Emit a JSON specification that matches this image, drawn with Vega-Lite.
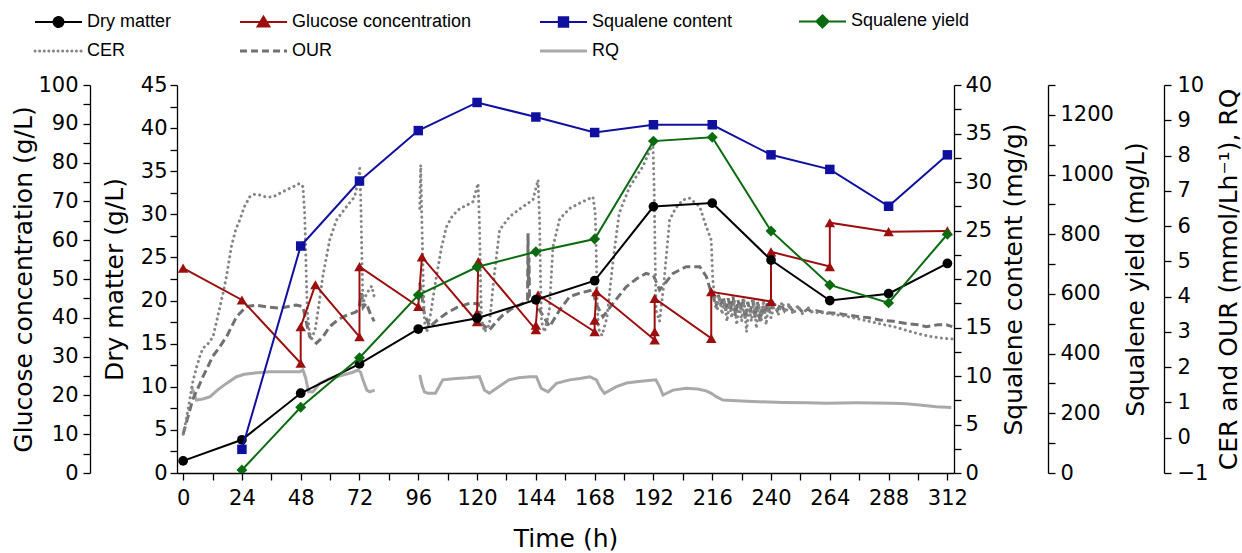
{
  "$schema": "https://vega.github.io/schema/vega-lite/v6.json",
  "width": 777,
  "height": 388,
  "autosize": {"type": "none"},
  "padding": {"left": 177, "top": 85, "right": 288, "bottom": 80},
  "background": "white",
  "config": {
    "view": {"stroke": null},
    "axis": {
      "labelFont": "DejaVu Sans", "labelFontSize": 21, "labelColor": "black",
      "titleFont": "DejaVu Sans", "titleFontSize": 25, "titleFontWeight": "normal", "titleColor": "black",
      "domainColor": "black", "tickColor": "black", "domainWidth": 1.3, "tickWidth": 1.3,
      "grid": false, "labelOverlap": false, "labelFlush": false, "tickSize": 7
    },
    "legend": {
      "orient": "none", "legendX": -142, "legendY": -73, "direction": "horizontal", "columns": 4, "columnPadding": 62, "rowPadding": 10,
      "symbolSize": 2209, "symbolOffset": 14.5, "labelFont": "Liberation Sans", "labelFontSize": 18, "labelColor": "black", "labelOffset": 19.5, "labelLimit": 500,
      "symbolOpacity": 1
    }
  },
  "datasets": {
    "measured": [
      {"series": "Dry matter", "i": 1, "t": 0, "v": 1.4},
      {"series": "Dry matter", "i": 2, "t": 24, "v": 3.85},
      {"series": "Dry matter", "i": 3, "t": 48, "v": 9.25},
      {"series": "Dry matter", "i": 4, "t": 72, "v": 12.65},
      {"series": "Dry matter", "i": 5, "t": 96, "v": 16.7},
      {"series": "Dry matter", "i": 6, "t": 120, "v": 17.95},
      {"series": "Dry matter", "i": 7, "t": 144, "v": 20.1},
      {"series": "Dry matter", "i": 8, "t": 168, "v": 22.3},
      {"series": "Dry matter", "i": 9, "t": 192, "v": 30.9},
      {"series": "Dry matter", "i": 10, "t": 216, "v": 31.3},
      {"series": "Dry matter", "i": 11, "t": 240, "v": 24.7},
      {"series": "Dry matter", "i": 12, "t": 264, "v": 20.0},
      {"series": "Dry matter", "i": 13, "t": 288, "v": 20.8},
      {"series": "Dry matter", "i": 14, "t": 312, "v": 24.3},
      {"series": "Glucose concentration", "i": 1, "t": 0, "v": 52.8},
      {"series": "Glucose concentration", "i": 2, "t": 24, "v": 44.6},
      {"series": "Glucose concentration", "i": 3, "t": 48, "v": 28.3},
      {"series": "Glucose concentration", "i": 4, "t": 48, "v": 37.7},
      {"series": "Glucose concentration", "i": 5, "t": 54, "v": 48.5},
      {"series": "Glucose concentration", "i": 6, "t": 72, "v": 35.1},
      {"series": "Glucose concentration", "i": 7, "t": 72, "v": 53.2},
      {"series": "Glucose concentration", "i": 8, "t": 96, "v": 42.9},
      {"series": "Glucose concentration", "i": 9, "t": 97.5, "v": 55.7},
      {"series": "Glucose concentration", "i": 10, "t": 120, "v": 39.0},
      {"series": "Glucose concentration", "i": 11, "t": 120, "v": 41.2},
      {"series": "Glucose concentration", "i": 12, "t": 120.5, "v": 54.5},
      {"series": "Glucose concentration", "i": 13, "t": 144, "v": 36.9},
      {"series": "Glucose concentration", "i": 14, "t": 144, "v": 38.1},
      {"series": "Glucose concentration", "i": 15, "t": 144.9, "v": 45.9},
      {"series": "Glucose concentration", "i": 16, "t": 168, "v": 36.4},
      {"series": "Glucose concentration", "i": 17, "t": 168, "v": 39.4},
      {"series": "Glucose concentration", "i": 18, "t": 168.7, "v": 46.7},
      {"series": "Glucose concentration", "i": 19, "t": 192.5, "v": 34.3},
      {"series": "Glucose concentration", "i": 20, "t": 192.5, "v": 36.4},
      {"series": "Glucose concentration", "i": 21, "t": 192.5, "v": 45.0},
      {"series": "Glucose concentration", "i": 22, "t": 215.6, "v": 34.7},
      {"series": "Glucose concentration", "i": 23, "t": 215.6, "v": 46.7},
      {"series": "Glucose concentration", "i": 24, "t": 240, "v": 44.2},
      {"series": "Glucose concentration", "i": 25, "t": 240, "v": 57.0},
      {"series": "Glucose concentration", "i": 26, "t": 264, "v": 53.2},
      {"series": "Glucose concentration", "i": 27, "t": 264, "v": 64.5},
      {"series": "Glucose concentration", "i": 28, "t": 288, "v": 62.2},
      {"series": "Glucose concentration", "i": 29, "t": 312, "v": 62.4},
      {"series": "Squalene content", "i": 1, "t": 24, "v": 2.44},
      {"series": "Squalene content", "i": 2, "t": 48, "v": 23.4},
      {"series": "Squalene content", "i": 3, "t": 72, "v": 30.1},
      {"series": "Squalene content", "i": 4, "t": 96, "v": 35.3},
      {"series": "Squalene content", "i": 5, "t": 120, "v": 38.2},
      {"series": "Squalene content", "i": 6, "t": 144, "v": 36.7},
      {"series": "Squalene content", "i": 7, "t": 168, "v": 35.1},
      {"series": "Squalene content", "i": 8, "t": 192, "v": 35.9},
      {"series": "Squalene content", "i": 9, "t": 216, "v": 35.9},
      {"series": "Squalene content", "i": 10, "t": 240, "v": 32.8},
      {"series": "Squalene content", "i": 11, "t": 264, "v": 31.3},
      {"series": "Squalene content", "i": 12, "t": 288, "v": 27.5},
      {"series": "Squalene content", "i": 13, "t": 312, "v": 32.8},
      {"series": "Squalene yield", "i": 1, "t": 24, "v": 10},
      {"series": "Squalene yield", "i": 2, "t": 48, "v": 220},
      {"series": "Squalene yield", "i": 3, "t": 72, "v": 386},
      {"series": "Squalene yield", "i": 4, "t": 96, "v": 596},
      {"series": "Squalene yield", "i": 5, "t": 120, "v": 690},
      {"series": "Squalene yield", "i": 6, "t": 144, "v": 741},
      {"series": "Squalene yield", "i": 7, "t": 168, "v": 784},
      {"series": "Squalene yield", "i": 8, "t": 192, "v": 1112},
      {"series": "Squalene yield", "i": 9, "t": 216, "v": 1125},
      {"series": "Squalene yield", "i": 10, "t": 240, "v": 811},
      {"series": "Squalene yield", "i": 11, "t": 264, "v": 630},
      {"series": "Squalene yield", "i": 12, "t": 288, "v": 570},
      {"series": "Squalene yield", "i": 13, "t": 312, "v": 800}
    ],
    "online": [
      {"series": "CER", "seg": 1, "t": 0, "v": 0.1}, {"series": "CER", "seg": 1, "t": 1.5, "v": 0.6}, {"series": "CER", "seg": 1, "t": 2.7, "v": 1.07}, {"series": "CER", "seg": 1, "t": 4, "v": 1.6}, {"series": "CER", "seg": 1, "t": 5.5, "v": 2.0}, {"series": "CER", "seg": 1, "t": 6.8, "v": 2.3}, {"series": "CER", "seg": 1, "t": 8.1, "v": 2.54}, {"series": "CER", "seg": 1, "t": 10, "v": 2.65}, {"series": "CER", "seg": 1, "t": 12.2, "v": 2.86}, {"series": "CER", "seg": 1, "t": 14, "v": 3.4}, {"series": "CER", "seg": 1, "t": 16.3, "v": 4.1}, {"series": "CER", "seg": 1, "t": 17.7, "v": 4.57}, {"series": "CER", "seg": 1, "t": 19.7, "v": 5.42}, {"series": "CER", "seg": 1, "t": 21.5, "v": 5.9}, {"series": "CER", "seg": 1, "t": 23.1, "v": 6.17}, {"series": "CER", "seg": 1, "t": 25, "v": 6.55}, {"series": "CER", "seg": 1, "t": 27.2, "v": 6.83}, {"series": "CER", "seg": 1, "t": 29, "v": 6.9}, {"series": "CER", "seg": 1, "t": 31.3, "v": 6.88}, {"series": "CER", "seg": 1, "t": 34, "v": 6.82}, {"series": "CER", "seg": 1, "t": 36.7, "v": 6.83}, {"series": "CER", "seg": 1, "t": 40, "v": 6.95}, {"series": "CER", "seg": 1, "t": 43.5, "v": 7.07}, {"series": "CER", "seg": 1, "t": 46, "v": 7.15}, {"series": "CER", "seg": 1, "t": 47.6, "v": 7.21}, {"series": "CER", "seg": 1, "t": 48.9, "v": 7.12}, {"series": "CER", "seg": 1, "t": 49.6, "v": 6.36}, {"series": "CER", "seg": 1, "t": 50, "v": 5.42}, {"series": "CER", "seg": 1, "t": 50.3, "v": 4.47}, {"series": "CER", "seg": 1, "t": 50.7, "v": 3.6}, {"series": "CER", "seg": 1, "t": 51.5, "v": 3.0}, {"series": "CER", "seg": 1, "t": 52.5, "v": 2.8}, {"series": "CER", "seg": 1, "t": 54, "v": 3.1}, {"series": "CER", "seg": 1, "t": 55.5, "v": 3.8}, {"series": "CER", "seg": 1, "t": 57, "v": 4.57}, {"series": "CER", "seg": 1, "t": 59.8, "v": 5.6}, {"series": "CER", "seg": 1, "t": 62.6, "v": 6.17}, {"series": "CER", "seg": 1, "t": 66.7, "v": 6.55}, {"series": "CER", "seg": 1, "t": 70, "v": 6.83}, {"series": "CER", "seg": 1, "t": 71.5, "v": 7.3}, {"series": "CER", "seg": 1, "t": 72.1, "v": 7.64}, {"series": "CER", "seg": 1, "t": 72.6, "v": 6.5}, {"series": "CER", "seg": 1, "t": 73, "v": 5.0}, {"series": "CER", "seg": 1, "t": 73.4, "v": 3.81}, {"series": "CER", "seg": 1, "t": 75, "v": 4.1}, {"series": "CER", "seg": 1, "t": 77, "v": 4.3}, {"series": "CER", "seg": 1, "t": 78, "v": 4.0},
      {"series": "CER", "seg": 2, "t": 96.6, "v": 6.5}, {"series": "CER", "seg": 2, "t": 97.0, "v": 7.73}, {"series": "CER", "seg": 2, "t": 97.5, "v": 6.0}, {"series": "CER", "seg": 2, "t": 98, "v": 4.5}, {"series": "CER", "seg": 2, "t": 98.5, "v": 3.3}, {"series": "CER", "seg": 2, "t": 99.5, "v": 3.0}, {"series": "CER", "seg": 2, "t": 101, "v": 3.5}, {"series": "CER", "seg": 2, "t": 103.4, "v": 4.57}, {"series": "CER", "seg": 2, "t": 105.5, "v": 5.4}, {"series": "CER", "seg": 2, "t": 107.5, "v": 5.98}, {"series": "CER", "seg": 2, "t": 110, "v": 6.3}, {"series": "CER", "seg": 2, "t": 113, "v": 6.5}, {"series": "CER", "seg": 2, "t": 116, "v": 6.6}, {"series": "CER", "seg": 2, "t": 118.3, "v": 6.69}, {"series": "CER", "seg": 2, "t": 120.4, "v": 7.21}, {"series": "CER", "seg": 2, "t": 121, "v": 6.0}, {"series": "CER", "seg": 2, "t": 121.4, "v": 4.5}, {"series": "CER", "seg": 2, "t": 121.8, "v": 3.4}, {"series": "CER", "seg": 2, "t": 123, "v": 3.0}, {"series": "CER", "seg": 2, "t": 125, "v": 3.2}, {"series": "CER", "seg": 2, "t": 127, "v": 4.6}, {"series": "CER", "seg": 2, "t": 129.2, "v": 5.89}, {"series": "CER", "seg": 2, "t": 133.3, "v": 6.27}, {"series": "CER", "seg": 2, "t": 138.7, "v": 6.55}, {"series": "CER", "seg": 2, "t": 142.8, "v": 6.74}, {"series": "CER", "seg": 2, "t": 144.9, "v": 7.31}, {"series": "CER", "seg": 2, "t": 145.5, "v": 6.2}, {"series": "CER", "seg": 2, "t": 145.9, "v": 4.5}, {"series": "CER", "seg": 2, "t": 146.3, "v": 3.3}, {"series": "CER", "seg": 2, "t": 147.5, "v": 3.0}, {"series": "CER", "seg": 2, "t": 149.5, "v": 3.6}, {"series": "CER", "seg": 2, "t": 151, "v": 5.42}, {"series": "CER", "seg": 2, "t": 153.7, "v": 6.2}, {"series": "CER", "seg": 2, "t": 157.8, "v": 6.5}, {"series": "CER", "seg": 2, "t": 161.9, "v": 6.65}, {"series": "CER", "seg": 2, "t": 165, "v": 6.75}, {"series": "CER", "seg": 2, "t": 167.3, "v": 6.83}, {"series": "CER", "seg": 2, "t": 168.2, "v": 6.4}, {"series": "CER", "seg": 2, "t": 168.6, "v": 5.42}, {"series": "CER", "seg": 2, "t": 169, "v": 4.0}, {"series": "CER", "seg": 2, "t": 169.5, "v": 3.1}, {"series": "CER", "seg": 2, "t": 171, "v": 2.9}, {"series": "CER", "seg": 2, "t": 173, "v": 3.4}, {"series": "CER", "seg": 2, "t": 175.5, "v": 5.0}, {"series": "CER", "seg": 2, "t": 178, "v": 6.36}, {"series": "CER", "seg": 2, "t": 182.3, "v": 7.12}, {"series": "CER", "seg": 2, "t": 187.7, "v": 7.69}, {"series": "CER", "seg": 2, "t": 191.8, "v": 8.35}, {"series": "CER", "seg": 2, "t": 192.3, "v": 7.0}, {"series": "CER", "seg": 2, "t": 192.7, "v": 5.0}, {"series": "CER", "seg": 2, "t": 193.1, "v": 3.6}, {"series": "CER", "seg": 2, "t": 194.5, "v": 3.3}, {"series": "CER", "seg": 2, "t": 196, "v": 4.2}, {"series": "CER", "seg": 2, "t": 198.6, "v": 6.17}, {"series": "CER", "seg": 2, "t": 201, "v": 6.5}, {"series": "CER", "seg": 2, "t": 204, "v": 6.74}, {"series": "CER", "seg": 2, "t": 206.8, "v": 6.79}, {"series": "CER", "seg": 2, "t": 210.9, "v": 6.55}, {"series": "CER", "seg": 2, "t": 213, "v": 6.1}, {"series": "CER", "seg": 2, "t": 215.6, "v": 5.6}, {"series": "CER", "seg": 2, "t": 216.2, "v": 4.5}, {"series": "CER", "seg": 2, "t": 216.8, "v": 4.1}, {"series": "CER", "seg": 2, "t": 218, "v": 3.6}, {"series": "CER", "seg": 2, "t": 219, "v": 4.0}, {"series": "CER", "seg": 2, "t": 220, "v": 3.5}, {"series": "CER", "seg": 2, "t": 221, "v": 3.9}, {"series": "CER", "seg": 2, "t": 222, "v": 3.3}, {"series": "CER", "seg": 2, "t": 223, "v": 3.8}, {"series": "CER", "seg": 2, "t": 224, "v": 3.4}, {"series": "CER", "seg": 2, "t": 225, "v": 3.9}, {"series": "CER", "seg": 2, "t": 226, "v": 3.2}, {"series": "CER", "seg": 2, "t": 227, "v": 3.8}, {"series": "CER", "seg": 2, "t": 228, "v": 3.3}, {"series": "CER", "seg": 2, "t": 229, "v": 3.9}, {"series": "CER", "seg": 2, "t": 230, "v": 3.0}, {"series": "CER", "seg": 2, "t": 231, "v": 3.7}, {"series": "CER", "seg": 2, "t": 232, "v": 3.3}, {"series": "CER", "seg": 2, "t": 233, "v": 3.9}, {"series": "CER", "seg": 2, "t": 234, "v": 3.1}, {"series": "CER", "seg": 2, "t": 235, "v": 3.8}, {"series": "CER", "seg": 2, "t": 236, "v": 3.3}, {"series": "CER", "seg": 2, "t": 237, "v": 3.9}, {"series": "CER", "seg": 2, "t": 238, "v": 3.2}, {"series": "CER", "seg": 2, "t": 239, "v": 3.8}, {"series": "CER", "seg": 2, "t": 240, "v": 3.4}, {"series": "CER", "seg": 2, "t": 241.5, "v": 3.8}, {"series": "CER", "seg": 2, "t": 243, "v": 3.5}, {"series": "CER", "seg": 2, "t": 244.5, "v": 3.85}, {"series": "CER", "seg": 2, "t": 246, "v": 3.55}, {"series": "CER", "seg": 2, "t": 247.5, "v": 3.8}, {"series": "CER", "seg": 2, "t": 249, "v": 3.5}, {"series": "CER", "seg": 2, "t": 251, "v": 3.75}, {"series": "CER", "seg": 2, "t": 253, "v": 3.5}, {"series": "CER", "seg": 2, "t": 255, "v": 3.7}, {"series": "CER", "seg": 2, "t": 257, "v": 3.55}, {"series": "CER", "seg": 2, "t": 260, "v": 3.55}, {"series": "CER", "seg": 2, "t": 265, "v": 3.5}, {"series": "CER", "seg": 2, "t": 270, "v": 3.45}, {"series": "CER", "seg": 2, "t": 275, "v": 3.38}, {"series": "CER", "seg": 2, "t": 280, "v": 3.3}, {"series": "CER", "seg": 2, "t": 285, "v": 3.22}, {"series": "CER", "seg": 2, "t": 290, "v": 3.15}, {"series": "CER", "seg": 2, "t": 295, "v": 3.05}, {"series": "CER", "seg": 2, "t": 300, "v": 2.95}, {"series": "CER", "seg": 2, "t": 305, "v": 2.87}, {"series": "CER", "seg": 2, "t": 310, "v": 2.82}, {"series": "CER", "seg": 2, "t": 314, "v": 2.8},
      {"series": "OUR", "seg": 1, "t": 0, "v": 0.1}, {"series": "OUR", "seg": 1, "t": 2, "v": 0.6}, {"series": "OUR", "seg": 1, "t": 4, "v": 1.1}, {"series": "OUR", "seg": 1, "t": 6, "v": 1.4}, {"series": "OUR", "seg": 1, "t": 8.1, "v": 1.73}, {"series": "OUR", "seg": 1, "t": 10, "v": 2.0}, {"series": "OUR", "seg": 1, "t": 12, "v": 2.3}, {"series": "OUR", "seg": 1, "t": 15, "v": 2.58}, {"series": "OUR", "seg": 1, "t": 18, "v": 2.9}, {"series": "OUR", "seg": 1, "t": 21.8, "v": 3.43}, {"series": "OUR", "seg": 1, "t": 25.8, "v": 3.72}, {"series": "OUR", "seg": 1, "t": 29.9, "v": 3.76}, {"series": "OUR", "seg": 1, "t": 35, "v": 3.7}, {"series": "OUR", "seg": 1, "t": 39.4, "v": 3.67}, {"series": "OUR", "seg": 1, "t": 43, "v": 3.72}, {"series": "OUR", "seg": 1, "t": 46.2, "v": 3.76}, {"series": "OUR", "seg": 1, "t": 48.9, "v": 3.72}, {"series": "OUR", "seg": 1, "t": 50.2, "v": 3.3}, {"series": "OUR", "seg": 1, "t": 51.7, "v": 2.86}, {"series": "OUR", "seg": 1, "t": 54.4, "v": 2.68}, {"series": "OUR", "seg": 1, "t": 57, "v": 2.85}, {"series": "OUR", "seg": 1, "t": 59.8, "v": 3.15}, {"series": "OUR", "seg": 1, "t": 62.5, "v": 3.3}, {"series": "OUR", "seg": 1, "t": 65.3, "v": 3.43}, {"series": "OUR", "seg": 1, "t": 68, "v": 3.5}, {"series": "OUR", "seg": 1, "t": 70.7, "v": 3.57}, {"series": "OUR", "seg": 1, "t": 72, "v": 3.75}, {"series": "OUR", "seg": 1, "t": 72.8, "v": 4.1}, {"series": "OUR", "seg": 1, "t": 73.5, "v": 3.7}, {"series": "OUR", "seg": 1, "t": 74.8, "v": 3.81}, {"series": "OUR", "seg": 1, "t": 76.5, "v": 3.5}, {"series": "OUR", "seg": 1, "t": 78, "v": 3.3},
      {"series": "OUR", "seg": 2, "t": 96.6, "v": 4.4}, {"series": "OUR", "seg": 2, "t": 97.3, "v": 4.1}, {"series": "OUR", "seg": 2, "t": 98.5, "v": 3.5}, {"series": "OUR", "seg": 2, "t": 100.7, "v": 3.15}, {"series": "OUR", "seg": 2, "t": 104, "v": 3.35}, {"series": "OUR", "seg": 2, "t": 107.5, "v": 3.53}, {"series": "OUR", "seg": 2, "t": 112, "v": 3.7}, {"series": "OUR", "seg": 2, "t": 117, "v": 3.81}, {"series": "OUR", "seg": 2, "t": 120.5, "v": 3.8}, {"series": "OUR", "seg": 2, "t": 121.8, "v": 3.24}, {"series": "OUR", "seg": 2, "t": 125, "v": 3.05}, {"series": "OUR", "seg": 2, "t": 128, "v": 3.3}, {"series": "OUR", "seg": 2, "t": 130.6, "v": 3.48}, {"series": "OUR", "seg": 2, "t": 134, "v": 3.65}, {"series": "OUR", "seg": 2, "t": 138.7, "v": 3.81}, {"series": "OUR", "seg": 2, "t": 140.6, "v": 3.9}, {"series": "OUR", "seg": 2, "t": 140.8, "v": 5.8}, {"series": "OUR", "seg": 2, "t": 141.0, "v": 4.3}, {"series": "OUR", "seg": 2, "t": 141.2, "v": 5.1}, {"series": "OUR", "seg": 2, "t": 141.4, "v": 4.0}, {"series": "OUR", "seg": 2, "t": 142.8, "v": 4.0}, {"series": "OUR", "seg": 2, "t": 145.5, "v": 3.62}, {"series": "OUR", "seg": 2, "t": 149.6, "v": 3.15}, {"series": "OUR", "seg": 2, "t": 153.7, "v": 3.62}, {"series": "OUR", "seg": 2, "t": 157.8, "v": 4.0}, {"series": "OUR", "seg": 2, "t": 161.9, "v": 4.1}, {"series": "OUR", "seg": 2, "t": 167.3, "v": 4.19}, {"series": "OUR", "seg": 2, "t": 168.5, "v": 3.8}, {"series": "OUR", "seg": 2, "t": 171.4, "v": 3.43}, {"series": "OUR", "seg": 2, "t": 175.5, "v": 3.81}, {"series": "OUR", "seg": 2, "t": 180.9, "v": 4.28}, {"series": "OUR", "seg": 2, "t": 185, "v": 4.5}, {"series": "OUR", "seg": 2, "t": 189, "v": 4.66}, {"series": "OUR", "seg": 2, "t": 192, "v": 4.6}, {"series": "OUR", "seg": 2, "t": 194.5, "v": 4.19}, {"series": "OUR", "seg": 2, "t": 197, "v": 4.4}, {"series": "OUR", "seg": 2, "t": 200, "v": 4.66}, {"series": "OUR", "seg": 2, "t": 205.4, "v": 4.85}, {"series": "OUR", "seg": 2, "t": 210.9, "v": 4.85}, {"series": "OUR", "seg": 2, "t": 213.6, "v": 4.57}, {"series": "OUR", "seg": 2, "t": 215.6, "v": 4.1}, {"series": "OUR", "seg": 2, "t": 216.5, "v": 4.0}, {"series": "OUR", "seg": 2, "t": 217.5, "v": 3.7}, {"series": "OUR", "seg": 2, "t": 218.5, "v": 4.05}, {"series": "OUR", "seg": 2, "t": 219.5, "v": 3.75}, {"series": "OUR", "seg": 2, "t": 220.5, "v": 4.0}, {"series": "OUR", "seg": 2, "t": 221.5, "v": 3.6}, {"series": "OUR", "seg": 2, "t": 222.5, "v": 3.95}, {"series": "OUR", "seg": 2, "t": 223.5, "v": 3.65}, {"series": "OUR", "seg": 2, "t": 224.5, "v": 4.0}, {"series": "OUR", "seg": 2, "t": 225.5, "v": 3.45}, {"series": "OUR", "seg": 2, "t": 226.5, "v": 3.9}, {"series": "OUR", "seg": 2, "t": 227.5, "v": 3.6}, {"series": "OUR", "seg": 2, "t": 228.5, "v": 3.95}, {"series": "OUR", "seg": 2, "t": 229.5, "v": 3.35}, {"series": "OUR", "seg": 2, "t": 230.5, "v": 3.85}, {"series": "OUR", "seg": 2, "t": 231.5, "v": 3.55}, {"series": "OUR", "seg": 2, "t": 232.5, "v": 3.9}, {"series": "OUR", "seg": 2, "t": 233.5, "v": 3.4}, {"series": "OUR", "seg": 2, "t": 234.5, "v": 3.85}, {"series": "OUR", "seg": 2, "t": 235.5, "v": 3.3}, {"series": "OUR", "seg": 2, "t": 236.5, "v": 3.75}, {"series": "OUR", "seg": 2, "t": 237.5, "v": 3.5}, {"series": "OUR", "seg": 2, "t": 238.5, "v": 3.85}, {"series": "OUR", "seg": 2, "t": 239.5, "v": 3.55}, {"series": "OUR", "seg": 2, "t": 241, "v": 3.8}, {"series": "OUR", "seg": 2, "t": 242.5, "v": 3.6}, {"series": "OUR", "seg": 2, "t": 244, "v": 3.8}, {"series": "OUR", "seg": 2, "t": 245.5, "v": 3.6}, {"series": "OUR", "seg": 2, "t": 247, "v": 3.75}, {"series": "OUR", "seg": 2, "t": 249, "v": 3.6}, {"series": "OUR", "seg": 2, "t": 251, "v": 3.7}, {"series": "OUR", "seg": 2, "t": 253, "v": 3.55}, {"series": "OUR", "seg": 2, "t": 255, "v": 3.65}, {"series": "OUR", "seg": 2, "t": 257, "v": 3.55}, {"series": "OUR", "seg": 2, "t": 258.5, "v": 3.6}, {"series": "OUR", "seg": 2, "t": 262, "v": 3.55}, {"series": "OUR", "seg": 2, "t": 266.6, "v": 3.53}, {"series": "OUR", "seg": 2, "t": 271, "v": 3.48}, {"series": "OUR", "seg": 2, "t": 276.2, "v": 3.43}, {"series": "OUR", "seg": 2, "t": 280, "v": 3.4}, {"series": "OUR", "seg": 2, "t": 284.3, "v": 3.34}, {"series": "OUR", "seg": 2, "t": 290, "v": 3.3}, {"series": "OUR", "seg": 2, "t": 295.2, "v": 3.24}, {"series": "OUR", "seg": 2, "t": 300, "v": 3.2}, {"series": "OUR", "seg": 2, "t": 303.4, "v": 3.15}, {"series": "OUR", "seg": 2, "t": 308, "v": 3.2}, {"series": "OUR", "seg": 2, "t": 311.6, "v": 3.2}, {"series": "OUR", "seg": 2, "t": 314, "v": 3.15},
      {"series": "RQ", "seg": 1, "t": 3.4, "v": 1.45}, {"series": "RQ", "seg": 1, "t": 4.2, "v": 1.3}, {"series": "RQ", "seg": 1, "t": 5.4, "v": 1.07}, {"series": "RQ", "seg": 1, "t": 8, "v": 1.1}, {"series": "RQ", "seg": 1, "t": 10.9, "v": 1.16}, {"series": "RQ", "seg": 1, "t": 14, "v": 1.35}, {"series": "RQ", "seg": 1, "t": 17.7, "v": 1.54}, {"series": "RQ", "seg": 1, "t": 21.8, "v": 1.73}, {"series": "RQ", "seg": 1, "t": 25, "v": 1.8}, {"series": "RQ", "seg": 1, "t": 28.5, "v": 1.83}, {"series": "RQ", "seg": 1, "t": 35.3, "v": 1.87}, {"series": "RQ", "seg": 1, "t": 42, "v": 1.87}, {"series": "RQ", "seg": 1, "t": 47.6, "v": 1.87}, {"series": "RQ", "seg": 1, "t": 48.9, "v": 1.92}, {"series": "RQ", "seg": 1, "t": 50, "v": 1.7}, {"series": "RQ", "seg": 1, "t": 51.2, "v": 1.3}, {"series": "RQ", "seg": 1, "t": 53, "v": 1.3}, {"series": "RQ", "seg": 1, "t": 55.8, "v": 1.54}, {"series": "RQ", "seg": 1, "t": 60, "v": 1.68}, {"series": "RQ", "seg": 1, "t": 65.3, "v": 1.78}, {"series": "RQ", "seg": 1, "t": 69, "v": 1.85}, {"series": "RQ", "seg": 1, "t": 71.4, "v": 1.92}, {"series": "RQ", "seg": 1, "t": 72.5, "v": 1.85}, {"series": "RQ", "seg": 1, "t": 73.4, "v": 1.64}, {"series": "RQ", "seg": 1, "t": 75, "v": 1.35}, {"series": "RQ", "seg": 1, "t": 76.2, "v": 1.3}, {"series": "RQ", "seg": 1, "t": 78.2, "v": 1.35},
      {"series": "RQ", "seg": 2, "t": 96.6, "v": 1.78}, {"series": "RQ", "seg": 2, "t": 97.5, "v": 1.5}, {"series": "RQ", "seg": 2, "t": 98.5, "v": 1.3}, {"series": "RQ", "seg": 2, "t": 100, "v": 1.26}, {"series": "RQ", "seg": 2, "t": 103, "v": 1.26}, {"series": "RQ", "seg": 2, "t": 106, "v": 1.64}, {"series": "RQ", "seg": 2, "t": 111.5, "v": 1.68}, {"series": "RQ", "seg": 2, "t": 116, "v": 1.7}, {"series": "RQ", "seg": 2, "t": 121, "v": 1.73}, {"series": "RQ", "seg": 2, "t": 123, "v": 1.35}, {"series": "RQ", "seg": 2, "t": 125, "v": 1.26}, {"series": "RQ", "seg": 2, "t": 129, "v": 1.45}, {"series": "RQ", "seg": 2, "t": 133, "v": 1.64}, {"series": "RQ", "seg": 2, "t": 137, "v": 1.7}, {"series": "RQ", "seg": 2, "t": 141.5, "v": 1.73}, {"series": "RQ", "seg": 2, "t": 144.2, "v": 1.73}, {"series": "RQ", "seg": 2, "t": 146.2, "v": 1.4}, {"series": "RQ", "seg": 2, "t": 149, "v": 1.3}, {"series": "RQ", "seg": 2, "t": 152.4, "v": 1.54}, {"series": "RQ", "seg": 2, "t": 157.8, "v": 1.64}, {"series": "RQ", "seg": 2, "t": 162, "v": 1.68}, {"series": "RQ", "seg": 2, "t": 166, "v": 1.73}, {"series": "RQ", "seg": 2, "t": 168.7, "v": 1.64}, {"series": "RQ", "seg": 2, "t": 170.5, "v": 1.4}, {"series": "RQ", "seg": 2, "t": 172, "v": 1.26}, {"series": "RQ", "seg": 2, "t": 176.9, "v": 1.45}, {"series": "RQ", "seg": 2, "t": 181, "v": 1.55}, {"series": "RQ", "seg": 2, "t": 185, "v": 1.59}, {"series": "RQ", "seg": 2, "t": 190, "v": 1.62}, {"series": "RQ", "seg": 2, "t": 193, "v": 1.64}, {"series": "RQ", "seg": 2, "t": 194.5, "v": 1.45}, {"series": "RQ", "seg": 2, "t": 195.9, "v": 1.21}, {"series": "RQ", "seg": 2, "t": 200, "v": 1.35}, {"series": "RQ", "seg": 2, "t": 205.4, "v": 1.4}, {"series": "RQ", "seg": 2, "t": 210, "v": 1.38}, {"series": "RQ", "seg": 2, "t": 213.5, "v": 1.33}, {"series": "RQ", "seg": 2, "t": 215.6, "v": 1.26}, {"series": "RQ", "seg": 2, "t": 218, "v": 1.15}, {"series": "RQ", "seg": 2, "t": 220.4, "v": 1.07}, {"series": "RQ", "seg": 2, "t": 228, "v": 1.04}, {"series": "RQ", "seg": 2, "t": 235, "v": 1.02}, {"series": "RQ", "seg": 2, "t": 245, "v": 1.0}, {"series": "RQ", "seg": 2, "t": 255, "v": 0.99}, {"series": "RQ", "seg": 2, "t": 262.6, "v": 0.98}, {"series": "RQ", "seg": 2, "t": 275, "v": 0.99}, {"series": "RQ", "seg": 2, "t": 289.8, "v": 0.98}, {"series": "RQ", "seg": 2, "t": 295, "v": 0.96}, {"series": "RQ", "seg": 2, "t": 300.7, "v": 0.93}, {"series": "RQ", "seg": 2, "t": 307.5, "v": 0.88}, {"series": "RQ", "seg": 2, "t": 313.6, "v": 0.86}
    ]
  },
  "encoding": {
    "x": {
      "field": "t", "type": "quantitative",
      "scale": {"domain": [-2.5, 314.7], "nice": false, "zero": false},
      "axis": {
        "title": "Time (h)", "format": "d", "titlePadding": 18, "labelPadding": 7,
        "values": [0, 12, 24, 36, 48, 60, 72, 84, 96, 108, 120, 132, 144, 156, 168, 180, 192, 204, 216, 228, 240, 252, 264, 276, 288, 300, 312],
        "labelExpr": "datum.value % 24 === 0 ? datum.label : ''",
        "encode": {"ticks": {"update": {"y2": {"signal": "datum.value % 24 === 0 ? 7 : 4"}}}}
      }
    }
  },
  "layer": [
    {
      "data": {"name": "online"},
      "transform": [{"filter": "datum.series === 'RQ'"}],
      "mark": {"type": "line", "strokeWidth": 3, "clip": true},
      "encoding": {
        "y": {"field": "v", "type": "quantitative", "scale": {"domain": [-1, 10], "nice": false, "zero": false}, "axis": null},
        "color": {"field": "series", "type": "nominal",
          "scale": {"domain": ["Dry matter", "Glucose concentration", "Squalene content", "Squalene yield", "CER", "OUR", "RQ"], "range": ["#000000", "#9c0f0f", "#1010a0", "#0b6b10", "#858585", "#717171", "#a9a9a9"]},
          "legend": {
            "title": null,
            "encode": {"symbols": {"update": {
              "shape": {"signal": "datum.value === 'Dry matter' ? 'M-1,0H1M0.21,0A0.21,0.21 0 1,1 -0.21,0A0.21,0.21 0 1,1 0.21,0Z' : datum.value === 'Glucose concentration' ? 'M-1,0H1M0,-0.23L0.25,0.19L-0.25,0.19Z' : datum.value === 'Squalene content' ? 'M-1,0H1M-0.2,-0.2H0.2V0.2H-0.2Z' : datum.value === 'Squalene yield' ? 'M-1,0H1M0,-0.26L0.26,0L0,0.26L-0.26,0Z' : 'M-1,0H1'"},
              "fill": {"scale": "color", "field": "value"},
              "stroke": {"scale": "color", "field": "value"},
              "strokeDash": {"signal": "datum.value === 'CER' ? [0.1, 4.5] : datum.value === 'OUR' ? [7, 4] : [1, 0]"},
              "strokeCap": {"signal": "datum.value === 'CER' ? 'round' : 'butt'"},
              "strokeWidth": {"signal": "datum.value === 'CER' || datum.value === 'OUR' || datum.value === 'RQ' ? 3 : 2"},
              "opacity": {"value": 1}
            }}}
          }
        },
        "detail": {"field": "seg", "type": "nominal"}
      }
    },
    {
      "data": {"name": "online"},
      "transform": [{"filter": "datum.series === 'OUR'"}],
      "mark": {"type": "line", "strokeWidth": 3, "strokeDash": [8, 4], "clip": true},
      "encoding": {
        "y": {"field": "v", "type": "quantitative", "scale": {"domain": [-1, 10], "nice": false, "zero": false}, "axis": null},
        "color": {"field": "series", "type": "nominal",
          "scale": {"domain": ["Dry matter", "Glucose concentration", "Squalene content", "Squalene yield", "CER", "OUR", "RQ"], "range": ["#000000", "#9c0f0f", "#1010a0", "#0b6b10", "#858585", "#717171", "#a9a9a9"]}},
        "detail": {"field": "seg", "type": "nominal"}
      }
    },
    {
      "data": {"name": "online"},
      "transform": [{"filter": "datum.series === 'CER'"}],
      "mark": {"type": "line", "strokeWidth": 3, "strokeDash": [0.1, 5.2], "strokeCap": "round", "clip": true},
      "encoding": {
        "y": {"field": "v", "type": "quantitative", "scale": {"domain": [-1, 10], "nice": false, "zero": false},
          "axis": {
            "orient": "right", "offset": 210, "title": "CER and OUR (mmol/Lh⁻¹), RQ", "titleAngle": 270, "titleBaseline": "top", "titlePadding": 9, "labelPadding": 6, "format": "d",
            "values": [-1, -0.5, 0, 0.5, 1, 1.5, 2, 2.5, 3, 3.5, 4, 4.5, 5, 5.5, 6, 6.5, 7, 7.5, 8, 8.5, 9, 9.5, 10],
            "labelExpr": "datum.value % 1 === 0 ? datum.label : ''",
            "encode": {"ticks": {"update": {"x2": {"signal": "datum.value % 1 === 0 ? 7 : 4"}}}}
          }},
        "color": {"field": "series", "type": "nominal",
          "scale": {"domain": ["Dry matter", "Glucose concentration", "Squalene content", "Squalene yield", "CER", "OUR", "RQ"], "range": ["#000000", "#9c0f0f", "#1010a0", "#0b6b10", "#858585", "#717171", "#a9a9a9"]}},
        "detail": {"field": "seg", "type": "nominal"}
      }
    },
    {
      "data": {"name": "measured"},
      "transform": [{"filter": "datum.series === 'Glucose concentration'"}],
      "mark": {"type": "line", "strokeWidth": 2, "clip": true, "point": {"shape": "triangle-up", "size": 110, "filled": true}},
      "encoding": {
        "y": {"field": "v", "type": "quantitative", "scale": {"domain": [0, 100], "nice": false, "zero": false},
          "axis": {
            "orient": "left", "offset": 87, "title": "Glucose concentration (g/L)", "titlePadding": 1, "labelPadding": 5, "format": "d",
            "values": [0, 5, 10, 15, 20, 25, 30, 35, 40, 45, 50, 55, 60, 65, 70, 75, 80, 85, 90, 95, 100],
            "labelExpr": "datum.value % 10 === 0 ? datum.label : ''",
            "encode": {"ticks": {"update": {"x2": {"signal": "datum.value % 10 === 0 ? -7 : -4"}}}}
          }},
        "color": {"field": "series", "type": "nominal",
          "scale": {"domain": ["Dry matter", "Glucose concentration", "Squalene content", "Squalene yield", "CER", "OUR", "RQ"], "range": ["#000000", "#9c0f0f", "#1010a0", "#0b6b10", "#858585", "#717171", "#a9a9a9"]}},
        "order": {"field": "i", "type": "quantitative"}
      }
    },
    {
      "data": {"name": "measured"},
      "transform": [{"filter": "datum.series === 'Dry matter'"}],
      "mark": {"type": "line", "strokeWidth": 2, "clip": true, "point": {"shape": "circle", "size": 95, "filled": true}},
      "encoding": {
        "y": {"field": "v", "type": "quantitative", "scale": {"domain": [0, 45], "nice": false, "zero": false},
          "axis": {
            "orient": "left", "offset": 0, "title": "Dry matter (g/L)", "titlePadding": 13, "labelPadding": 3, "format": "d",
            "values": [0, 2.5, 5, 7.5, 10, 12.5, 15, 17.5, 20, 22.5, 25, 27.5, 30, 32.5, 35, 37.5, 40, 42.5, 45],
            "labelExpr": "datum.value % 5 === 0 ? datum.label : ''",
            "encode": {"ticks": {"update": {"x2": {"signal": "datum.value % 5 === 0 ? -7 : -4"}}}}
          }},
        "color": {"field": "series", "type": "nominal",
          "scale": {"domain": ["Dry matter", "Glucose concentration", "Squalene content", "Squalene yield", "CER", "OUR", "RQ"], "range": ["#000000", "#9c0f0f", "#1010a0", "#0b6b10", "#858585", "#717171", "#a9a9a9"]}},
        "order": {"field": "i", "type": "quantitative"}
      }
    },
    {
      "data": {"name": "measured"},
      "transform": [{"filter": "datum.series === 'Squalene content'"}],
      "mark": {"type": "line", "strokeWidth": 2, "clip": true, "point": {"shape": "square", "size": 90, "filled": true}},
      "encoding": {
        "y": {"field": "v", "type": "quantitative", "scale": {"domain": [0, 40], "nice": false, "zero": false},
          "axis": {
            "orient": "right", "offset": 0, "title": "Squalene content (mg/g)", "titleAngle": 270, "titleBaseline": "top", "titlePadding": 10, "labelPadding": 4, "format": "d",
            "values": [0, 2.5, 5, 7.5, 10, 12.5, 15, 17.5, 20, 22.5, 25, 27.5, 30, 32.5, 35, 37.5, 40],
            "labelExpr": "datum.value % 5 === 0 ? datum.label : ''",
            "encode": {"ticks": {"update": {"x2": {"signal": "datum.value % 5 === 0 ? 7 : 4"}}}}
          }},
        "color": {"field": "series", "type": "nominal",
          "scale": {"domain": ["Dry matter", "Glucose concentration", "Squalene content", "Squalene yield", "CER", "OUR", "RQ"], "range": ["#000000", "#9c0f0f", "#1010a0", "#0b6b10", "#858585", "#717171", "#a9a9a9"]}},
        "order": {"field": "i", "type": "quantitative"}
      }
    },
    {
      "data": {"name": "measured"},
      "transform": [{"filter": "datum.series === 'Squalene yield'"}],
      "mark": {"type": "line", "strokeWidth": 2, "clip": true, "point": {"shape": "diamond", "size": 120, "filled": true}},
      "encoding": {
        "y": {"field": "v", "type": "quantitative", "scale": {"domain": [0, 1300], "nice": false, "zero": false},
          "axis": {
            "orient": "right", "offset": 94, "title": "Squalene yield (mg/L)", "titleAngle": 270, "titleBaseline": "top", "titlePadding": 10, "labelPadding": 5, "format": "d",
            "values": [0, 100, 200, 300, 400, 500, 600, 700, 800, 900, 1000, 1100, 1200, 1300],
            "labelExpr": "datum.value % 200 === 0 ? datum.label : ''",
            "encode": {"ticks": {"update": {"x2": {"signal": "datum.value % 200 === 0 ? 7 : 4"}}}}
          }},
        "color": {"field": "series", "type": "nominal",
          "scale": {"domain": ["Dry matter", "Glucose concentration", "Squalene content", "Squalene yield", "CER", "OUR", "RQ"], "range": ["#000000", "#9c0f0f", "#1010a0", "#0b6b10", "#858585", "#717171", "#a9a9a9"]}},
        "order": {"field": "i", "type": "quantitative"}
      }
    }
  ],
  "resolve": {"scale": {"y": "independent"}}
}
